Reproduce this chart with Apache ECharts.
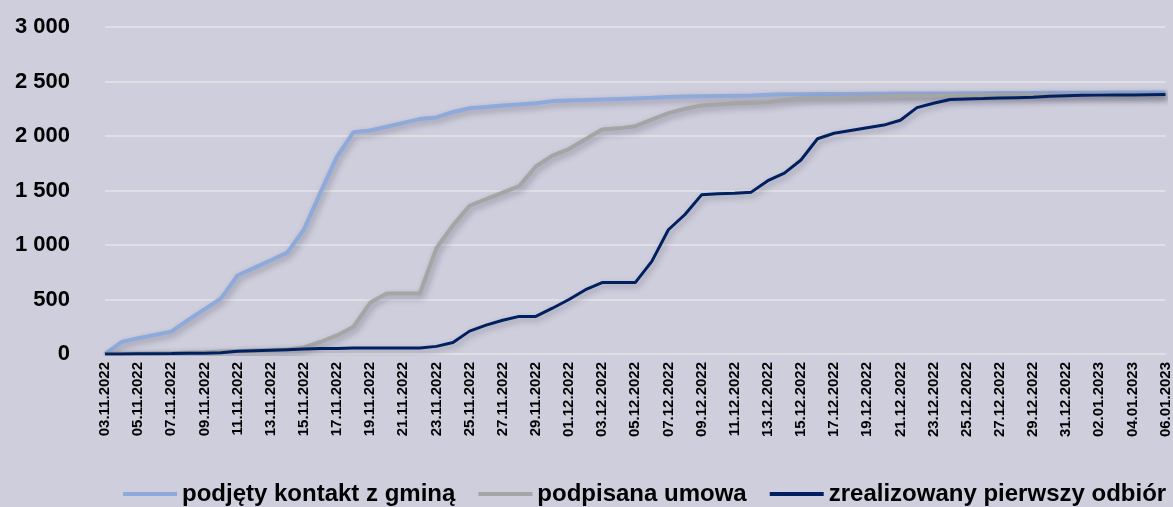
<!DOCTYPE html>
<html>
<head>
<meta charset="utf-8">
<script src="https://cdn.jsdelivr.net/npm/echarts@6/dist/echarts.min.js"></script>
<style>
  html, body { margin: 0; padding: 0; background: #cfcedd; }
  #chart { width: 1173px; height: 507px; }
</style>
</head>
<body>
<div id="chart"></div>
<script>
// daty (dzienne)
const dates = [
  '03.11.2022','04.11.2022','05.11.2022','06.11.2022','07.11.2022','08.11.2022','09.11.2022','10.11.2022',
  '11.11.2022','12.11.2022','13.11.2022','14.11.2022','15.11.2022','16.11.2022','17.11.2022','18.11.2022',
  '19.11.2022','20.11.2022','21.11.2022','22.11.2022','23.11.2022','24.11.2022','25.11.2022','26.11.2022',
  '27.11.2022','28.11.2022','29.11.2022','30.11.2022','01.12.2022','02.12.2022','03.12.2022','04.12.2022',
  '05.12.2022','06.12.2022','07.12.2022','08.12.2022','09.12.2022','10.12.2022','11.12.2022','12.12.2022',
  '13.12.2022','14.12.2022','15.12.2022','16.12.2022','17.12.2022','18.12.2022','19.12.2022','20.12.2022',
  '21.12.2022','22.12.2022','23.12.2022','24.12.2022','25.12.2022','26.12.2022','27.12.2022','28.12.2022',
  '29.12.2022','30.12.2022','31.12.2022','01.01.2023','02.01.2023','03.01.2023','04.01.2023','05.01.2023',
  '06.01.2023'
];

const seriesNames = ['podjęty kontakt z gminą', 'podpisana umowa', 'zrealizowany pierwszy odbiór'];

const kontakt = [
  0, 110, 145, 175, 205, 310, 410, 510, 720, 790, 860, 930, 1140, 1480, 1810, 2035,
  2050, 2085, 2120, 2155, 2170, 2220, 2255, 2265, 2280, 2290, 2300, 2320, 2325, 2330, 2335, 2340,
  2345, 2350, 2357, 2362, 2365, 2368, 2370, 2372, 2378, 2382, 2384, 2385, 2386, 2386, 2387, 2388,
  2389, 2390, 2390, 2391, 2392, 2393, 2394, 2395, 2395, 2396, 2396, 2397, 2397, 2398, 2398, 2399,
  2400
];

const umowa = [
  0, 2, 4, 6, 8, 12, 16, 22, 28, 32, 36, 42, 60, 110, 170, 250,
  470, 555, 555, 555, 970, 1180, 1360, 1420, 1480, 1540, 1720, 1820, 1880, 1970, 2060, 2070,
  2090, 2150, 2210, 2250, 2280, 2290, 2300, 2305, 2310, 2330, 2345, 2350, 2352, 2355, 2358, 2362,
  2366, 2368, 2370, 2372, 2372, 2373, 2373, 2374, 2374, 2375, 2375, 2376, 2376, 2377, 2377, 2378,
  2378
];

const odbior = [
  0, 0, 2, 3, 4, 6, 8, 12, 25, 30, 35, 40, 45, 50, 50, 55,
  55, 55, 55, 55, 70, 105, 210, 265, 310, 345, 345, 420, 500, 590, 655, 655,
  655, 850, 1140, 1280, 1460, 1470, 1475, 1485, 1590, 1660, 1780, 1975, 2025, 2050, 2075, 2100,
  2145, 2260, 2300, 2335, 2340, 2343, 2348, 2352, 2356, 2365, 2370, 2374, 2375, 2376, 2377, 2379,
  2381
];

const yTicks = { min: 0, max: 3000, step: 500 };

const colors = ['#8eaadb', '#a5a5a5', '#002060'];
const widths = [4, 4, 3];
const fontFam = '"Liberation Sans", Arial, sans-serif';

function fmt(v) {
  return String(v).replace(/\B(?=(\d{3})+(?!\d))/g, ' ');
}

const chart = echarts.init(document.getElementById('chart'));

const option = {
  backgroundColor: '#cfcedd',
  animation: false,
  grid: { left: 105, right: 5, top: 27, bottom: 153, containLabel: false },
  legend: {
    data: seriesNames,
    left: 118,
    top: 477,
    icon: 'rect',
    itemWidth: 54,
    itemHeight: 4,
    itemGap: 23,
    textStyle: { fontFamily: fontFam, fontWeight: 'bold', fontSize: 24, color: '#000' }
  },
  xAxis: {
    type: 'category',
    data: dates,
    boundaryGap: false,
    axisLine: { show: false },
    axisTick: { show: false },
    axisLabel: {
      interval: 1,
      rotate: 90,
      margin: 8,
      fontFamily: fontFam,
      fontWeight: 'bold',
      fontSize: 15,
      color: '#000'
    },
    splitLine: { show: false }
  },
  yAxis: {
    type: 'value',
    min: yTicks.min,
    max: yTicks.max,
    interval: yTicks.step,
    axisLine: { show: false },
    axisTick: { show: false },
    axisLabel: {
      margin: 35,
      fontFamily: fontFam,
      fontWeight: 'bold',
      fontSize: 22,
      color: '#000',
      formatter: fmt
    },
    splitLine: { lineStyle: { color: '#e0dfe6', width: 2 } }
  },
  series: [kontakt, umowa, odbior].map((d, i) => ({
    name: seriesNames[i],
    type: 'line',
    data: d,
    symbol: 'none',
    z: 2 + i,
    itemStyle: { color: colors[i] },
    lineStyle: {
      color: colors[i],
      width: widths[i],
      shadowColor: 'rgba(40,40,60,0.35)',
      shadowBlur: 6,
      shadowOffsetX: 2,
      shadowOffsetY: 3
    }
  }))
};

chart.setOption(option);
</script>
</body>
</html>
